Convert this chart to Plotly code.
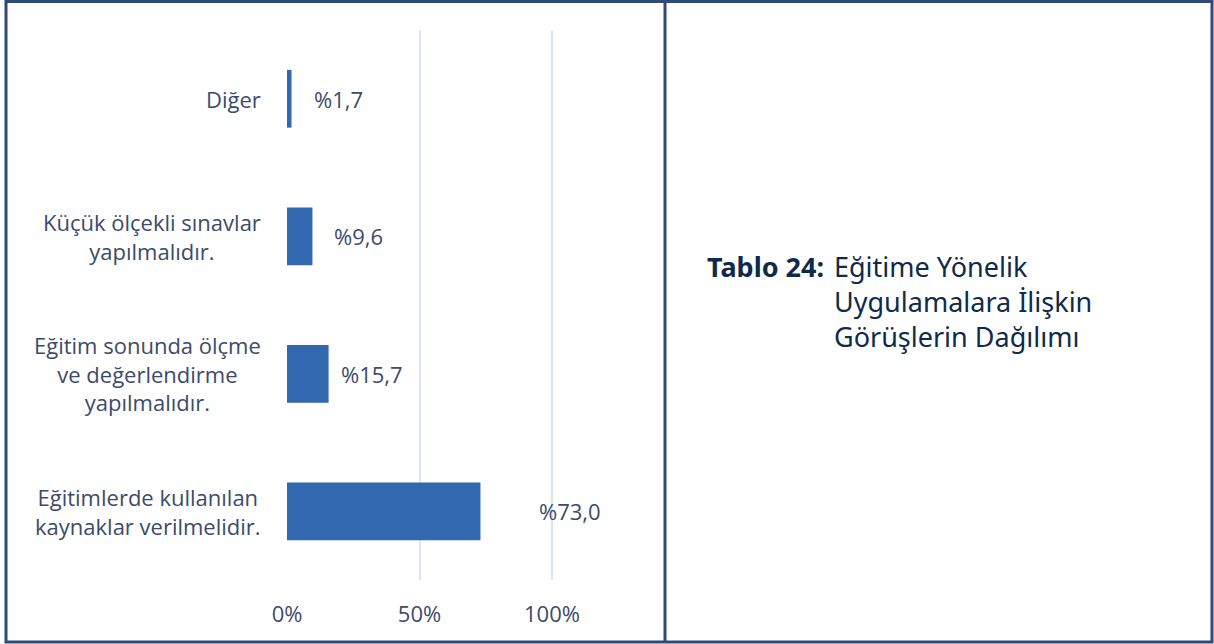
import plotly.graph_objects as go

categories = [
    "Diğer",
    "Küçük ölçekli sınavlar<br>yapılmalıdır.",
    "Eğitim sonunda ölçme<br>ve değerlendirme<br>yapılmalıdır.",
    "Eğitimlerde kullanılan<br>kaynaklar verilmelidir.",
]
values = [1.7, 9.6, 15.7, 73.0]
value_labels = ["%1,7", "%9,6", "%15,7", "%73,0"]
tick_vals = [0, 50, 100]
tick_text = ["0%", "50%", "100%"]

# styling
label_shift = [20, 20, 10, 57]
W, H = 1214, 644
L, R, T, B = 287, 556, 30, 64
pw, ph = W - L - R, H - T - B
BORDER = "#2f4a74"
TEXT = "#3b4b6c"
FONT = "Open Sans"
FS = 22

def px(x):
    return (x - L) / pw

def py(y):
    return (H - B - y) / ph

fig = go.Figure(go.Bar(
    x=values, y=categories, orientation="h",
    marker=dict(color="#3268b0", line=dict(width=0)),
    width=0.42, hoverinfo="skip",
))

annotations = []
for c in categories:
    annotations.append(dict(
        x=0, xref="paper", y=c, yref="y", text=c, showarrow=False,
        xanchor="right", yanchor="middle", align="center", xshift=-24,
        font=dict(family=FONT, size=FS, color=TEXT),
    ))
for v, c, t, s in zip(values, categories, value_labels, label_shift):
    annotations.append(dict(
        x=v, xref="x", y=c, yref="y", text=t, showarrow=False,
        xanchor="left", yanchor="middle", xshift=s,
        font=dict(family=FONT, size=FS, color=TEXT),
    ))

annotations.append(dict(
    x=px(705), xref="paper", y=py(266), yref="paper", text="<b>Tablo 24:</b>",
    showarrow=False, xanchor="left", yanchor="middle",
    font=dict(family="Noto Sans", size=27, color="#0f2a4a"),
))
annotations.append(dict(
    x=px(832), xref="paper", y=py(266), yref="paper",
    text="Eğitime Yönelik<br>Uygulamalara İlişkin<br>Görüşlerin Dağılımı",
    showarrow=False, xanchor="left", yanchor="top", align="left", yshift=20,
    font=dict(family="Noto Sans", size=27, color="#0f2a4a"),
))

shapes = [
    dict(type="rect", xref="paper", yref="paper",
         x0=px(6), x1=px(1212), y0=py(642), y1=py(1.5),
         line=dict(color=BORDER, width=3), layer="above"),
    dict(type="line", xref="paper", yref="paper",
         x0=px(665), x1=px(665), y0=py(642), y1=py(1.5),
         line=dict(color=BORDER, width=3), layer="above"),
]

fig.update_layout(
    width=W, height=H, margin=dict(l=L, r=R, t=T, b=B),
    paper_bgcolor="white", plot_bgcolor="white", showlegend=False,
    annotations=annotations, shapes=shapes,
    xaxis=dict(range=[0, 140], tickvals=tick_vals, ticktext=tick_text,
               showgrid=True, gridcolor="#dce6f3", gridwidth=2,
               zeroline=False, showline=False, ticks="",
               tickfont=dict(family=FONT, size=FS, color=TEXT), ticklabelstandoff=19),
    yaxis=dict(autorange="reversed", showticklabels=False, showgrid=False,
               zeroline=False, showline=False, ticks=""),
)

fig.write_html(
    "out.html",
    config={"displayModeBar": False},
    post_script="document.body.style.margin='0px';document.body.style.overflow='hidden';",
)
